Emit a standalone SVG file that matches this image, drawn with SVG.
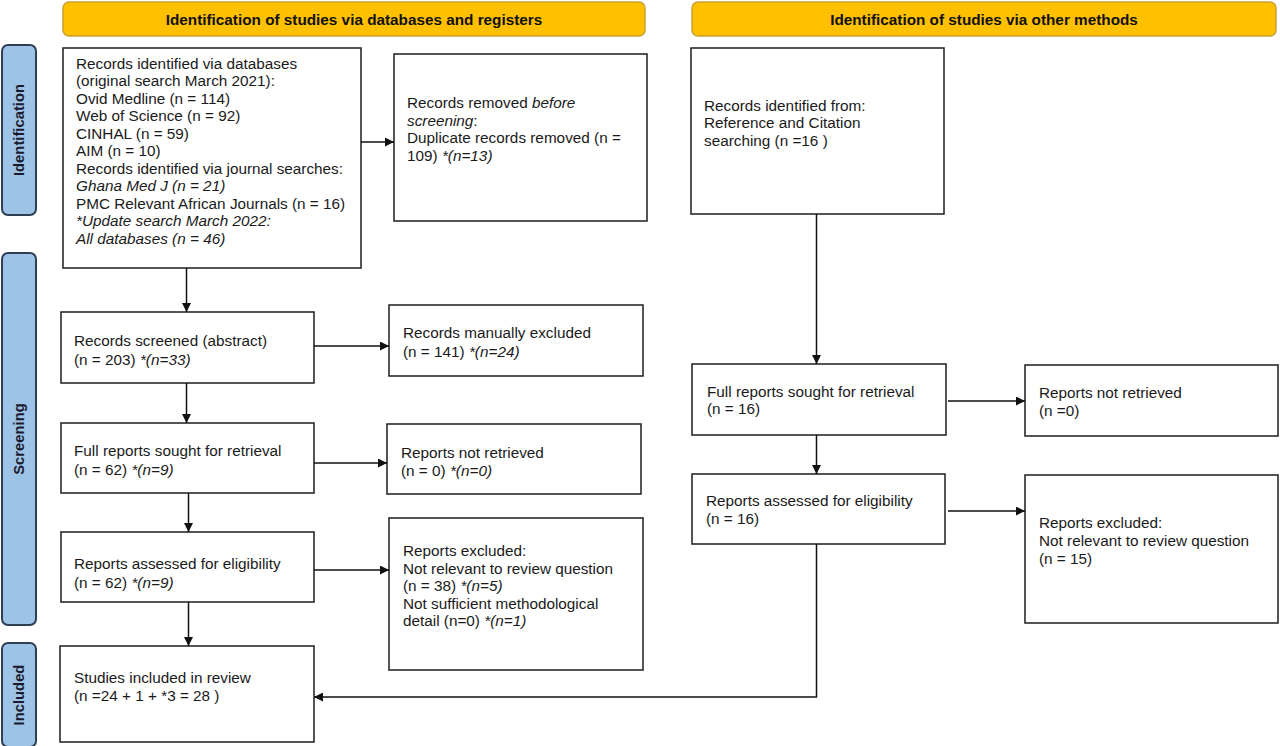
<svg xmlns="http://www.w3.org/2000/svg" width="1280" height="746" viewBox="0 0 1280 746">
<style>
.hdr{fill:#FFC000;stroke:#C9A032;stroke-width:1.5}
.hdrt{font-family:"Liberation Sans",Arial,sans-serif;font-weight:bold;font-size:15.3px;fill:#111;text-anchor:middle}
.side{fill:#9DC3E6;stroke:#2E3F55;stroke-width:2}
.sidet{font-family:"Liberation Sans",Arial,sans-serif;font-weight:bold;font-size:14.8px;fill:#1a1a2e;text-anchor:middle}
.box{fill:#fff;stroke:#2b2b2b;stroke-width:1.6}
.t{font-family:"Liberation Sans",Arial,sans-serif;font-size:15.3px;fill:#1a1a1a}
.i{font-style:italic}
.c{fill:none;stroke:#111;stroke-width:1.5}
</style>
<defs>
<marker id="ah" viewBox="0 0 10 10" refX="10" refY="5" markerWidth="9" markerHeight="9" markerUnits="userSpaceOnUse" orient="auto"><path d="M0,0 L10,5 L0,10 z" fill="#111"/></marker>
</defs>
<rect width="1280" height="746" fill="#fff"/>

<g id="header-left"><rect class="hdr" x="63" y="2" width="582" height="34" rx="6"/><text class="hdrt" x="354" y="24.5">Identification of studies via databases and registers</text></g>
<g id="header-right"><rect class="hdr" x="692" y="2" width="584" height="34" rx="6"/><text class="hdrt" x="984" y="24.5">Identification of studies via other methods</text></g>

<g id="side-identification"><rect class="side" x="2" y="45" width="34" height="170" rx="6"/><text class="sidet" transform="translate(24,130) rotate(-90)">Identification</text></g>
<g id="side-screening"><rect class="side" x="2" y="253" width="34" height="372" rx="6"/><text class="sidet" transform="translate(24,439) rotate(-90)">Screening</text></g>
<g id="side-included"><rect class="side" x="2" y="643" width="34" height="104" rx="6"/><text class="sidet" transform="translate(24,695) rotate(-90)">Included</text></g>

<g id="records-identified"><rect class="box" x="63" y="48" width="298" height="220"/>
<text class="t" x="76" y="68.5">Records identified via databases</text>
<text class="t" x="76" y="86">(original search March 2021):</text>
<text class="t" x="76" y="103.5">Ovid Medline (n = 114)</text>
<text class="t" x="76" y="121">Web of Science (n = 92)</text>
<text class="t" x="76" y="138.5">CINHAL (n = 59)</text>
<text class="t" x="76" y="156">AIM (n = 10)</text>
<text class="t" x="76" y="173.5">Records identified via journal searches:</text>
<text class="t i" x="76" y="191">Ghana Med J (n = 21)</text>
<text class="t" x="76" y="208.5">PMC Relevant African Journals (n = 16)</text>
<text class="t i" x="76" y="226">*Update search March 2022:</text>
<text class="t i" x="76" y="243.5">All databases (n = 46)</text>
</g>
<g id="records-removed"><rect class="box" x="394" y="54" width="253" height="167"/>
<text class="t" x="407" y="107.5">Records removed <tspan class="i">before</tspan></text>
<text class="t i" x="407" y="125.5">screening<tspan font-style="normal">:</tspan></text>
<text class="t" x="407" y="143">Duplicate records removed (n =</text>
<text class="t" x="407" y="160.5">109) <tspan class="i">*(n=13)</tspan></text>
</g>
<g id="records-other"><rect class="box" x="691" y="48" width="253" height="166"/>
<text class="t" x="704" y="110.5">Records identified from:</text>
<text class="t" x="704" y="128">Reference and Citation</text>
<text class="t" x="704" y="145.5">searching (n =16 )</text>
</g>
<g id="records-screened"><rect class="box" x="61" y="312" width="253" height="71"/>
<text class="t" x="74" y="345.5">Records screened (abstract)</text>
<text class="t" x="74" y="364.5">(n = 203) <tspan class="i">*(n=33)</tspan></text>
</g>
<g id="records-excluded"><rect class="box" x="389" y="305" width="254" height="71"/>
<text class="t" x="403" y="337.5">Records manually excluded</text>
<text class="t" x="403" y="356.5">(n = 141) <tspan class="i">*(n=24)</tspan></text>
</g>
<g id="reports-sought"><rect class="box" x="61" y="423" width="253" height="70"/>
<text class="t" x="74" y="455.5">Full reports sought for retrieval</text>
<text class="t" x="74" y="474.5">(n = 62) <tspan class="i">*(n=9)</tspan></text>
</g>
<g id="reports-not-retrieved"><rect class="box" x="387" y="424" width="254" height="70"/>
<text class="t" x="401" y="457.5">Reports not retrieved</text>
<text class="t" x="401" y="475.5">(n = 0) <tspan class="i">*(n=0)</tspan></text>
</g>
<g id="reports-assessed"><rect class="box" x="61" y="532" width="253" height="70"/>
<text class="t" x="74" y="568.5">Reports assessed for eligibility</text>
<text class="t" x="74" y="587.5">(n = 62) <tspan class="i">*(n=9)</tspan></text>
</g>
<g id="reports-excluded"><rect class="box" x="389" y="518" width="254" height="152"/>
<text class="t" x="403" y="555.5">Reports excluded:</text>
<text class="t" x="403" y="573.5">Not relevant to review question</text>
<text class="t" x="403" y="590.5">(n = 38) <tspan class="i">*(n=5)</tspan></text>
<text class="t" x="403" y="608.5">Not sufficient methodological</text>
<text class="t" x="403" y="625.5">detail (n=0) <tspan class="i">*(n=1)</tspan></text>
</g>
<g id="studies-included"><rect class="box" x="60" y="646" width="254" height="96"/>
<text class="t" x="74" y="682.5">Studies included in review</text>
<text class="t" x="74" y="700.5">(n =24 + 1 + *3 = 28 )</text>
</g>
<g id="reports-sought-other"><rect class="box" x="692" y="364" width="254" height="71"/>
<text class="t" x="707" y="396.5">Full reports sought for retrieval</text>
<text class="t" x="707" y="413.5">(n = 16)</text>
</g>
<g id="reports-not-retrieved-other"><rect class="box" x="1025" y="365" width="253" height="71"/>
<text class="t" x="1039" y="397.5">Reports not retrieved</text>
<text class="t" x="1039" y="415.5">(n =0)</text>
</g>
<g id="reports-assessed-other"><rect class="box" x="692" y="474" width="253" height="70"/>
<text class="t" x="706" y="505.5">Reports assessed for eligibility</text>
<text class="t" x="706" y="523.5">(n = 16)</text>
</g>
<g id="reports-excluded-other"><rect class="box" x="1025" y="475" width="253" height="148"/>
<text class="t" x="1039" y="527.5">Reports excluded:</text>
<text class="t" x="1039" y="545.5">Not relevant to review question</text>
<text class="t" x="1039" y="563.5">(n = 15)</text>
</g>

<g id="connectors">
<path class="c" marker-end="url(#ah)" d="M361,142 H394"/>
<path class="c" marker-end="url(#ah)" d="M186.5,268 V312"/>
<path class="c" marker-end="url(#ah)" d="M314,346 H389"/>
<path class="c" marker-end="url(#ah)" d="M186.5,383 V423"/>
<path class="c" marker-end="url(#ah)" d="M314,463 H387"/>
<path class="c" marker-end="url(#ah)" d="M188.5,493 V532"/>
<path class="c" marker-end="url(#ah)" d="M314,570 H389"/>
<path class="c" marker-end="url(#ah)" d="M188.5,602 V646"/>
<path class="c" marker-end="url(#ah)" d="M816.5,214 V364"/>
<path class="c" marker-end="url(#ah)" d="M948,401 H1025"/>
<path class="c" marker-end="url(#ah)" d="M816.5,435 V474"/>
<path class="c" marker-end="url(#ah)" d="M948,511 H1025"/>
<path class="c" marker-end="url(#ah)" d="M816.5,544 V697 H314"/>
</g>
</svg>
